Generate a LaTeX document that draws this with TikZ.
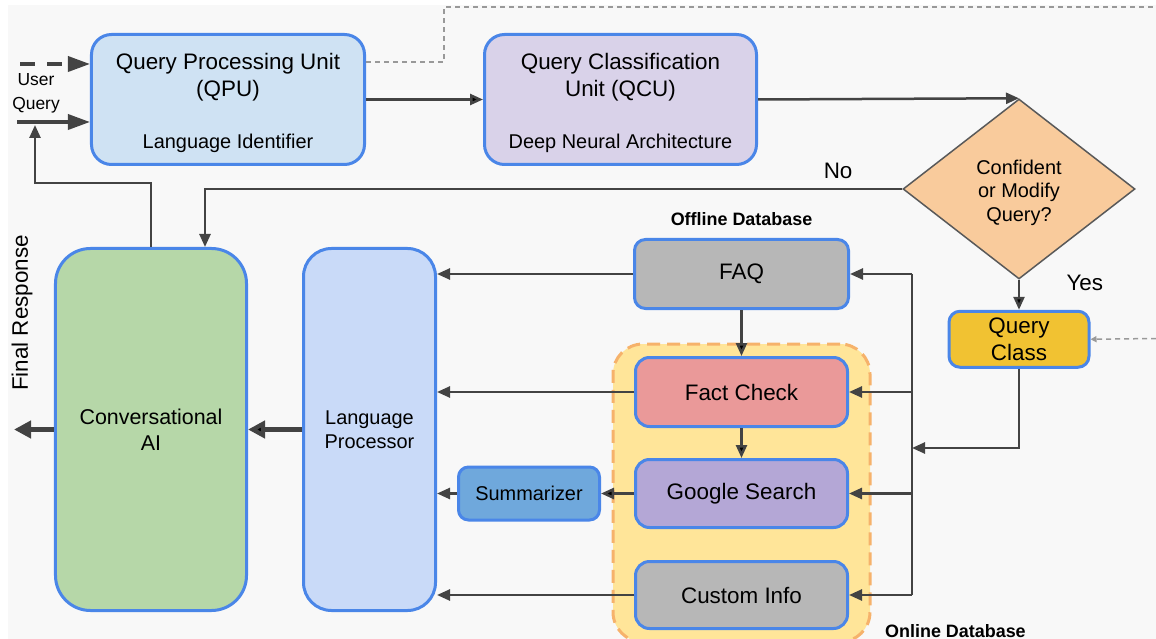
\documentclass[tikz,border=0pt]{standalone}
\usepackage{fontspec}
\setmainfont{Liberation Sans}
\usepackage{xcolor}
\usepackage{tikz}
\usetikzlibrary{arrows.meta}
\usetikzlibrary{positioning}
\usetikzlibrary{shapes.geometric}
\usetikzlibrary{fit}
\usetikzlibrary{backgrounds}
\definecolor{canvasgray}{HTML}{F8F8F8}
\definecolor{edgeblue}{HTML}{4A86E8}
\definecolor{arrowgray}{HTML}{434343}
\definecolor{dashgray}{HTML}{999999}
\definecolor{qpufill}{HTML}{CFE2F3}
\definecolor{qcufill}{HTML}{D9D2E9}
\definecolor{caifill}{HTML}{B6D7A8}
\definecolor{lpfill}{HTML}{C9DAF8}
\definecolor{dbgray}{HTML}{B7B7B7}
\definecolor{factfill}{HTML}{EA9999}
\definecolor{googlefill}{HTML}{B4A7D6}
\definecolor{summfill}{HTML}{6FA8DC}
\definecolor{classfill}{HTML}{F1C232}
\definecolor{decisionfill}{HTML}{F9CB9C}
\definecolor{decisionedge}{HTML}{595959}
\definecolor{onlinefill}{HTML}{FFE599}
\definecolor{onlineedge}{HTML}{F6B26B}
\newcommand{\boxfont}{\fontsize{22.5}{27}\selectfont}
\newcommand{\midfont}{\fontsize{20}{24}\selectfont}
\newcommand{\dbfont}{\fontsize{18}{21}\selectfont\bfseries}
\newcommand{\inputfont}{\fontsize{17.5}{24}\selectfont}
\newcommand{\topstrut}[1]{\rule{0pt}{#1}}
\tikzset{
    block/.style={
           rectangle,
           rounded corners=20bp,
           draw=edgeblue, line width=3bp,
           inner sep=0pt,
           align=center,
           font=\boxfont,
           },
    smallblock/.style={
           block,
           rounded corners=11bp,
           },
    decision/.style={
           diamond,
           fill=decisionfill,
           draw=decisionedge, line width=1.5bp,
           inner sep=0pt,
           align=center,
           font=\midfont,
           },
    online/.style={
           rectangle,
           rounded corners=30bp,
           fill=onlinefill,
           draw=onlineedge, line width=3bp,
           dash pattern=on 13bp off 7bp,
           },
    frameless/.style={
           inner sep=0pt,
           align=center,
           },
    arrow/.style={
           draw=arrowgray, line width=2.5bp,
           -{Triangle[length=13bp,width=11bp]},
           },
    bigarrow/.style={
           draw=arrowgray, line width=4.5bp,
           -{Triangle[length=17bp,width=17bp]},
           },
    inarrow/.style={
           draw=arrowgray, line width=3.5bp,
           -{Triangle[length=22bp,width=15bp]},
           },
    dashline/.style={
           draw=dashgray, line width=1.5bp,
           dash pattern=on 5bp off 4bp,
           },
}

\begin{document}
\begin{tikzpicture}[x=1bp,y=-1bp]
	\useasboundingbox (0,0) rectangle (1156,639);
	\begin{scope}[on background layer]
		\fill[white] (0,0) rectangle (1156,639);
		\fill[canvasgray] (8,5) rectangle (1156,639);
	\end{scope}

	% top row
	\node[block, fill=qpufill, minimum width=273bp, minimum height=130bp] (qpu) at (228,99.5) {
		\topstrut{22.5bp}Query Processing Unit\\(QPU)\\[25bp]{\midfont Language Identifier}
	};
	\node[block, fill=qcufill, minimum width=272bp, minimum height=130bp, right=117bp of qpu] (qcu) {
		\topstrut{22.5bp}Query Classification\\Unit (QCU)\\[25bp]{\midfont Deep Neural Architecture}
	};
	\node[decision, minimum width=232bp, minimum height=180bp] (dia) at (1019,189) {
		\topstrut{22bp}Confident\\or Modify\\Query?
	};
	\node[smallblock, fill=classfill, minimum width=140bp, minimum height=56bp, below=30bp of dia] (qclass) {
		Query\\Class
	};

	% left column
	\node[block, rounded corners=35bp, fill=caifill, minimum width=191bp, minimum height=362bp,
		font=\fontsize{21.5}{26}\selectfont] (cai) at (151,429.5) {Conversational\\AI};
	\node[block, rounded corners=28bp, fill=lpfill, minimum width=132bp, minimum height=362bp,
		font=\midfont, right=54bp of cai] (lp) {Language\\Processor};

	% databases
	\node[smallblock, fill=dbgray, minimum width=214bp, minimum height=69bp,
		label={[frameless, font=\dbfont, label distance=12bp]above:Offline Database}] (faq) at (741.5,274) {FAQ};
	\node[smallblock, rounded corners=14bp, fill=factfill, minimum width=212bp, minimum height=69bp, below=46bp of faq] (fact) {Fact Check};
	\node[smallblock, rounded corners=14bp, fill=googlefill, minimum width=212bp, minimum height=68bp, below=30bp of fact] (google) {Google Search};
	\node[smallblock, rounded corners=14bp, fill=dbgray, minimum width=212bp, minimum height=67bp, below=31bp of google] (custom) {Custom Info};
	\node[smallblock, rounded corners=10bp, fill=summfill, minimum width=141bp, minimum height=53bp,
		font=\midfont, left=33bp of google] (summ) {Summarizer};
	\begin{scope}[on background layer]
		\node[online, fit=(fact)(custom), inner xsep=21bp, inner ysep=12bp] (onlinedb) {};
	\end{scope}

	% texts
	\node[frameless, font=\inputfont] (uq) at (36,93) {User\\Query};
	\node[frameless, font=\boxfont, rotate=90] (final) at (22,313) {Final Response};
	\node[frameless, font=\dbfont, anchor=base west] (onlinelbl) at (885,637) {Online Database};

	% free ends
	\coordinate (uqdash) at (20,64);
	\coordinate (uqsolid) at (17,122);
	\coordinate (uqback) at (35,125);
	\coordinate (out) at (14,429.5);
	\coordinate (bus) at (912,0);
	\coordinate (qin) at (912,448);
	\coordinate (topcorner) at (444,7);
	\coordinate (topend) at (1156,7);
	\coordinate (classin) at (1156,338.5);

	% inputs
	\draw[inarrow, dash pattern=on 15bp off 12bp] (uqdash) -- (uqdash -| qpu.west);
	\draw[inarrow] (uqsolid) -- (uqsolid -| qpu.west);
	\draw[dashline] ([yshift=37.5bp]qpu.east) -| (topcorner) -- (topend);
	\draw[dashline, -{Triangle[length=6bp,width=6bp]}] (classin) -- (qclass.east);

	% main flow
	\path[arrow] (qpu) edge (qcu);
	\draw[arrow] (qcu.east) -- (dia.north);
	\draw[arrow] (dia.west) -| node[pos=0.046, above=6bp, font=\boxfont] {No} ([xshift=54bp]cai.north);
	\path[arrow] (dia) edge node[pos=0.1, right=43bp, font=\boxfont] {Yes} (qclass);
	\draw[arrow] (qclass.south) |- (qin);
	\draw[arrow] (cai.north) -- ++(0,-64) -| (uqback);

	% bus to databases
	\draw[draw=arrowgray, line width=2.5bp] (faq.east -| bus) -- (custom.east -| bus);
	\draw[arrow] (faq.east -| bus) -- (faq.east);
	\draw[arrow] (fact.east -| bus) -- (fact.east);
	\draw[arrow] (google.east -| bus) -- (google.east);
	\draw[arrow] (custom.east -| bus) -- (custom.east);
	\path[arrow] (faq) edge (fact);
	\path[arrow] (fact) edge (google);

	% back to the language processor
	\draw[arrow] (faq.west) -- (faq.west -| lp.east);
	\draw[arrow] (fact.west) -- (fact.west -| lp.east);
	\path[arrow] (google) edge (summ);
	\draw[arrow] (summ.west) -- (summ.west -| lp.east);
	\draw[arrow] (custom.west) -- (custom.west -| lp.east);
	\path[bigarrow] (lp) edge (cai);
	\draw[bigarrow] (cai.west) -- (out);
\end{tikzpicture}
\end{document}
